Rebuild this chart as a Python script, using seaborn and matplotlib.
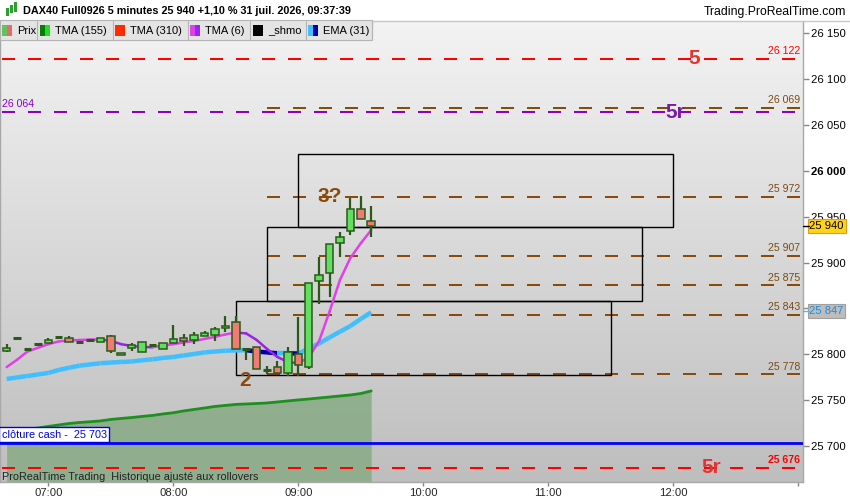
import numpy as np
import pandas as pd
import matplotlib
matplotlib.use("Agg")
import matplotlib.pyplot as plt
import seaborn as sns
from matplotlib.patches import Rectangle
from matplotlib.colors import LinearSegmentedColormap
import matplotlib.transforms as mtransforms

# ---------------- data ----------------
times = ["06:40", "06:45", "06:50", "06:55", "07:00", "07:05", "07:10", "07:15", "07:20",
         "07:25", "07:30", "07:35", "07:40", "07:45", "07:50", "07:55", "08:00", "08:05",
         "08:10", "08:15", "08:20", "08:25", "08:30", "08:35", "08:40", "08:45", "08:50",
         "08:55", "09:00", "09:05", "09:10", "09:15", "09:20", "09:25", "09:30", "09:35"]
opens = [25803.5, 25818, 25806, 25811.5, 25812, 25818.3, 25817.3, 25813.6, 25815,
         25813.6, 25819.9, 25799.5, 25806.8, 25802.7, 25810.4, 25805.7, 25812.2, 25817.7,
         25815.5, 25819.9, 25821, 25828.6, 25835.5, 25805.2, 25807.4, 25782.7, 25785.6,
         25780.1, 25800.2, 25785.6, 25879.5, 25888.7, 25921, 25934.2, 25958.7, 25944.8]
highs = [25811, 25818.5, 25806.5, 25812, 25818, 25818.8, 25819.4, 25814.1, 25815.5,
         25818, 25820.5, 25801.5, 25812.6, 25813.3, 25810.9, 25811.8, 25832.2, 25822,
         25823.8, 25825.7, 25830, 25842, 25841.3, 25805.7, 25807.4, 25787.4, 25792.9,
         25808.2, 25840.2, 25877.4, 25906.5, 25920.4, 25932.8, 25970.7, 25972.1, 25961.2]
lows = [25803, 25817.5, 25805.5, 25811, 25812, 25817.8, 25813.6, 25813.1, 25814.5,
        25813, 25801.6, 25799.5, 25803.8, 25802.7, 25809.9, 25805.7, 25812.2, 25809.3,
        25811.1, 25819.9, 25814, 25824.6, 25805.7, 25793.7, 25783.8, 25778.4, 25779.5,
        25776.5, 25776.5, 25784.1, 25854.9, 25862.1, 25905.8, 25930.2, 25947.7, 25927.6]
closes = [25807, 25818, 25806, 25811.5, 25816, 25818.3, 25813.6, 25813.6, 25815,
          25817.3, 25803.8, 25801.5, 25810, 25813.3, 25810.4, 25811.8, 25816.6, 25814,
          25821.3, 25823.5, 25827.5, 25831.1, 25805.7, 25805.2, 25783.8, 25782.7, 25780.1,
          25803, 25788.5, 25877.4, 25886.5, 25920.4, 25927.6, 25958.7, 25947.7, 25940]
tma6 = [25786, 25794, 25803, 25807, 25811, 25814, 25815, 25815.5, 25816,
        25816.2, 25814.5, 25811, 25809, 25808, 25807.6, 25809.6, 25811, 25813,
        25814.5, 25816.7, 25819, 25821.6, 25823.8, 25822.7, 25815.6, 25805.8, 25797,
        25791.6, 25790.2, 25796.5, 25814.5, 25846.4, 25881, 25905, 25921, 25935.5]
ema31 = [25773.1, 25774.7, 25776.3, 25778, 25779.6, 25782.9, 25785.3, 25787.6, 25788.9,
         25790.2, 25791, 25791.6, 25792.1, 25793.4, 25794.5, 25796, 25797, 25798.7,
         25800.3, 25802, 25803, 25803.9, 25804.2, 25804.4, 25803, 25802, 25801.1,
         25801.1, 25800.8, 25806.3, 25811.8, 25818.3, 25824.6, 25830.8, 25838.5, 25845.8]
tma155 = [25716.4, 25717.4, 25718, 25719.6, 25721.3, 25722.9, 25724.5, 25725.6, 25726.4,
          25727.3, 25728.9, 25730, 25731, 25732.2, 25733.3, 25734.9, 25736.2, 25738.2,
          25739.8, 25741.4, 25743.1, 25744.2, 25745.3, 25745.8, 25746.3, 25746.9, 25748,
          25749.1, 25750.2, 25751.2, 25752.3, 25753.4, 25754.5, 25755.6, 25757.2, 25760]

level_values = [25972, 25907, 25875, 25843, 25778]
level_026069 = 26069
red_levels = [26122, 25676]
purple_level = 26064
cash_close = 25703
box_starts = ["09:00", "08:45", "08:30"]
box_ends = ["12:00", "11:45", "11:30"]
box_tops = [26018, 25938.5, 25858.5]
box_bottoms = [25938.5, 25858.5, 25777.5]
yticks = [25700, 25750, 25800, 25850, 25900, 25950, 26000, 26050, 26100, 26150]
xtick_labels = ["07:00", "08:00", "09:00", "10:00", "11:00", "12:00", "13:00"]
last_price = 25940
ema_last = 25847


def to_min(t):
    h, m = map(int, t.split(":"))
    return (h - 7) * 60 + m


df = pd.DataFrame({"t": [to_min(t) for t in times], "open": opens, "high": highs,
                   "low": lows, "close": closes, "tma6": tma6, "ema31": ema31,
                   "tma155": tma155})

# ---------------- style ----------------
sns.set_theme(style="white")
plt.rcParams["font.family"] = ["Liberation Sans", "DejaVu Sans"]
FS = 7.8

fig = plt.figure(figsize=(8.5, 5.0), dpi=100)
fig.patch.set_facecolor("white")
ax = fig.add_axes([0.0, 1 - 482 / 500, 803 / 850, 461 / 500])

xmin, xmax = -23.2, 362.3
ymin, ymax = 25660.7, 26163.4
ax.set_xlim(xmin, xmax)
ax.set_ylim(ymin, ymax)

# gradient background
cmap = LinearSegmentedColormap.from_list("bg", ["#f3f3f3", "#bebebe"])
ax.imshow(np.linspace(0, 1, 256).reshape(-1, 1), cmap=cmap, aspect="auto",
          extent=[xmin, xmax, ymin, ymax], origin="upper", zorder=0)

# green area TMA155
ax.fill_between(df["t"], df["tma155"], ymin, color="#8cad8a", alpha=0.92, zorder=1, lw=0)
sns.lineplot(data=df, x="t", y="tma155", ax=ax, color="#1f8f1f", lw=2, zorder=3)

# cash close blue line
ax.axhline(cash_close, color="#0000ff", lw=2, zorder=4)

lw_px = 2 / 100 * 72
dash = (0, (6.5, 6.5))
for v in red_levels:
    ax.plot([xmin + 1, xmax], [v, v], color="#ff0000", lw=lw_px, ls=dash, zorder=4)
ax.plot([xmin + 1, xmax], [purple_level, purple_level], color="#8800cc", lw=lw_px, ls=dash, zorder=4)
for v in level_values + [level_026069]:
    ax.plot([to_min("08:45"), xmax], [v, v], color="#8a4a0a", lw=lw_px, ls=dash, zorder=4)

# boxes
for s, e, top, bot in zip(box_starts, box_ends, box_tops, box_bottoms):
    ax.add_patch(Rectangle((to_min(s), bot), to_min(e) - to_min(s), top - bot,
                           fill=False, ec="black", lw=1, zorder=5))

# EMA31 colored by slope
ema_light, ema_dark = "#40bfff", "#0000a8"
for i in range(len(df) - 1):
    d = df["ema31"][i + 1] - df["ema31"][i]
    c = ema_dark if d < 0 else ema_light
    ax.plot(df["t"][i:i + 2], df["ema31"][i:i + 2], color=c, lw=3.2,
            solid_capstyle="butt", zorder=6)
# TMA6 colored by slope
for i in range(len(df) - 1):
    d = df["tma6"][i + 1] - df["tma6"][i]
    c = "#9a22e6" if d < 0 else "#e040e8"
    ax.plot(df["t"][i:i + 2], df["tma6"][i:i + 2], color=c, lw=1.8,
            solid_capstyle="round", zorder=7)

# candles
wick_c = "#2a5a18"
bw = 3.6
for _, r in df.iterrows():
    ax.plot([r.t, r.t], [r.low, r.high], color=wick_c, lw=1.6, zorder=8, solid_capstyle="butt")
    if abs(r.close - r.open) < 0.6:
        ax.plot([r.t - bw / 2, r.t + bw / 2], [r.close, r.close], color=wick_c, lw=2.2,
                zorder=9, solid_capstyle="butt")
    else:
        up = r.close > r.open
        fc = "#62df62" if up else "#ef7b74"
        ax.add_patch(Rectangle((r.t - bw / 2, min(r.open, r.close)), bw,
                               abs(r.close - r.open), fc=fc, ec=wick_c, lw=1.1, zorder=9))

# level labels
tr = mtransforms.blended_transform_factory(ax.transAxes, ax.transData)
lab_x = 0.9965
for v in level_values + [level_026069]:
    ax.text(lab_x, v + 3, f"{v:,}".replace(",", " "), transform=tr, ha="right", va="bottom",
            fontsize=7.6, color="#7a4a14", zorder=10)
for v in red_levels:
    ax.text(lab_x, v + 3, f"{v:,}".replace(",", " "), transform=tr, ha="right", va="bottom",
            fontsize=7.6, color="#ff0000", zorder=10, fontweight="bold" if v < 25700 else "normal")
ax.text(0.003, purple_level + 3, f"{purple_level:,}".replace(",", " "), transform=tr,
        ha="left", va="bottom", fontsize=7.6, color="#8800cc", zorder=10)

# big annotation labels
ax.text(310, red_levels[0], "5", color="#e83232", fontsize=15, fontweight="bold",
        ha="center", va="center", zorder=10)
ax.text(301, purple_level, "5r", color="#7a1aa8", fontsize=15, fontweight="bold",
        ha="center", va="center", zorder=10)
ax.text(318.5, red_levels[1], "5r", color="#e83232", fontsize=15, fontweight="bold",
        ha="center", va="center", zorder=10)
ax.text(135.2, 25972, "3?", color="#8a4a0a", fontsize=15, fontweight="bold",
        ha="center", va="center", zorder=10)
ax.text(94.4, 25771, "2", color="#8a4a0a", fontsize=15, fontweight="bold",
        ha="center", va="center", zorder=10)

# cash close label
ax.text(0.002, cash_close + 4, "clôture cash -  25 703", transform=tr, ha="left",
        va="bottom", fontsize=FS, color="#0000ee", zorder=11,
        bbox=dict(boxstyle="square,pad=0.2", fc="white", ec="#0000ee", lw=1))
ax.text(0.003, 0.0, "ProRealTime Trading  Historique ajusté aux rollovers",
        transform=ax.transAxes, ha="left", va="bottom", fontsize=FS, color="#222222", zorder=11)

# axes / ticks
ax.spines["top"].set_visible(False)
for s in ["left", "right", "bottom"]:
    ax.spines[s].set_color("#a8a8a8")
    ax.spines[s].set_linewidth(1)
ax.yaxis.tick_right()
ax.set_yticks(yticks)
ax.set_yticklabels([f"{v:,}".replace(",", " ") for v in yticks])
ax.tick_params(axis="y", direction="out", length=4, width=1, color="#888888",
               labelsize=FS + 0.3, pad=2, labelcolor="black", left=False, right=True)
for lab, v in zip(ax.get_yticklabels(), yticks):
    if v == 26000:
        lab.set_fontweight("bold")
xt = [to_min(t) for t in xtick_labels]
ax.set_xticks(xt)
ax.set_xticklabels(xtick_labels[:-1] + [""])
ax.tick_params(axis="x", direction="out", length=3, width=1, color="#888888",
               labelsize=FS + 0.3, pad=1, bottom=True)
ax.set_xlabel("")
ax.set_ylabel("")

# price tags on right axis
ax.text(1.008, last_price, "25 940", transform=tr, ha="left", va="center", fontsize=FS + 0.3,
        color="black", zorder=12, clip_on=False,
        bbox=dict(boxstyle="square,pad=0.15", fc="#ffd21a", ec="#e0a000", lw=0.8))
ax.text(1.008, ema_last, "25 847", transform=tr, ha="left", va="center", fontsize=FS + 0.3,
        color="#1a8ce0", zorder=12, clip_on=False,
        bbox=dict(boxstyle="square,pad=0.15", fc="#bdbdbd", ec="#a0a0a0", lw=0.8))
ax.plot([1.0, 1.008], [last_price, last_price], transform=tr, color="black", lw=1,
        clip_on=False, zorder=12)
ax.plot([1.0, 1.008], [ema_last, ema_last], transform=tr, color="#40bfff", lw=1,
        clip_on=False, zorder=12)

# ---------------- header ----------------
W, H = 850, 500


def fx(x):
    return x / W


def fy(y):
    return 1 - y / H


fig.add_artist(plt.Line2D([0, 1], [fy(20.5), fy(20.5)], color="#c8c8c8", lw=1))
for (x0, y0, h, c) in [(6, 8, 8, "#2e9e2e"), (10, 5, 8, "#2e9e2e"), (14, 2, 10, "#2e9e2e")]:
    fig.add_artist(Rectangle((fx(x0), fy(y0 + h)), 3 / W, h / H, fc=c, ec="none"))
fig.text(fx(23), fy(11), "DAX40 Full0926 5 minutes 25 940 +1,10 % 31 juil. 2026, 09:37:39",
         fontsize=FS, fontweight="bold", va="center", ha="left", color="black")
fig.text(fx(846), fy(12), "Trading.ProRealTime.com", fontsize=8.8, va="center",
         ha="right", color="black")

# legend bar
fig.add_artist(Rectangle((0, fy(40)), fx(372), 19.5 / H, fc="#e4e4e4", ec="#b4b4b4",
                         lw=0.8, zorder=20))
cells = [(2, "Prix", ("#5ec45e", "#e86a6a")),
         (40, "TMA (155)", ("#0a7a0a", "#22dd22")),
         (115, "TMA (310)", ("#ff2a00", "#ff2a00")),
         (190, "TMA (6)", ("#e040e8", "#9a22ff")),
         (253, "_shmo", ("#000000", "#000000")),
         (308, "EMA (31)", ("#40bfff", "#0000aa"))]
seps = [37, 113, 188, 250, 306, 372]
for (x0, lab, (c1, c2)), sx in zip(cells, seps):
    fig.add_artist(Rectangle((fx(x0), fy(36)), 5 / W, 11 / H, fc=c1, ec="none", zorder=21))
    fig.add_artist(Rectangle((fx(x0 + 5), fy(36)), 5 / W, 11 / H, fc=c2, ec="none", zorder=21))
    fig.text(fx(x0 + 15), fy(30.5), lab, fontsize=FS + 0.2, va="center", ha="left",
             color="black", zorder=22)
    fig.add_artist(plt.Line2D([fx(sx), fx(sx)], [fy(39.5), fy(21)], color="#b4b4b4",
                              lw=0.8, zorder=21))

fig.savefig("out.png", dpi=100)
